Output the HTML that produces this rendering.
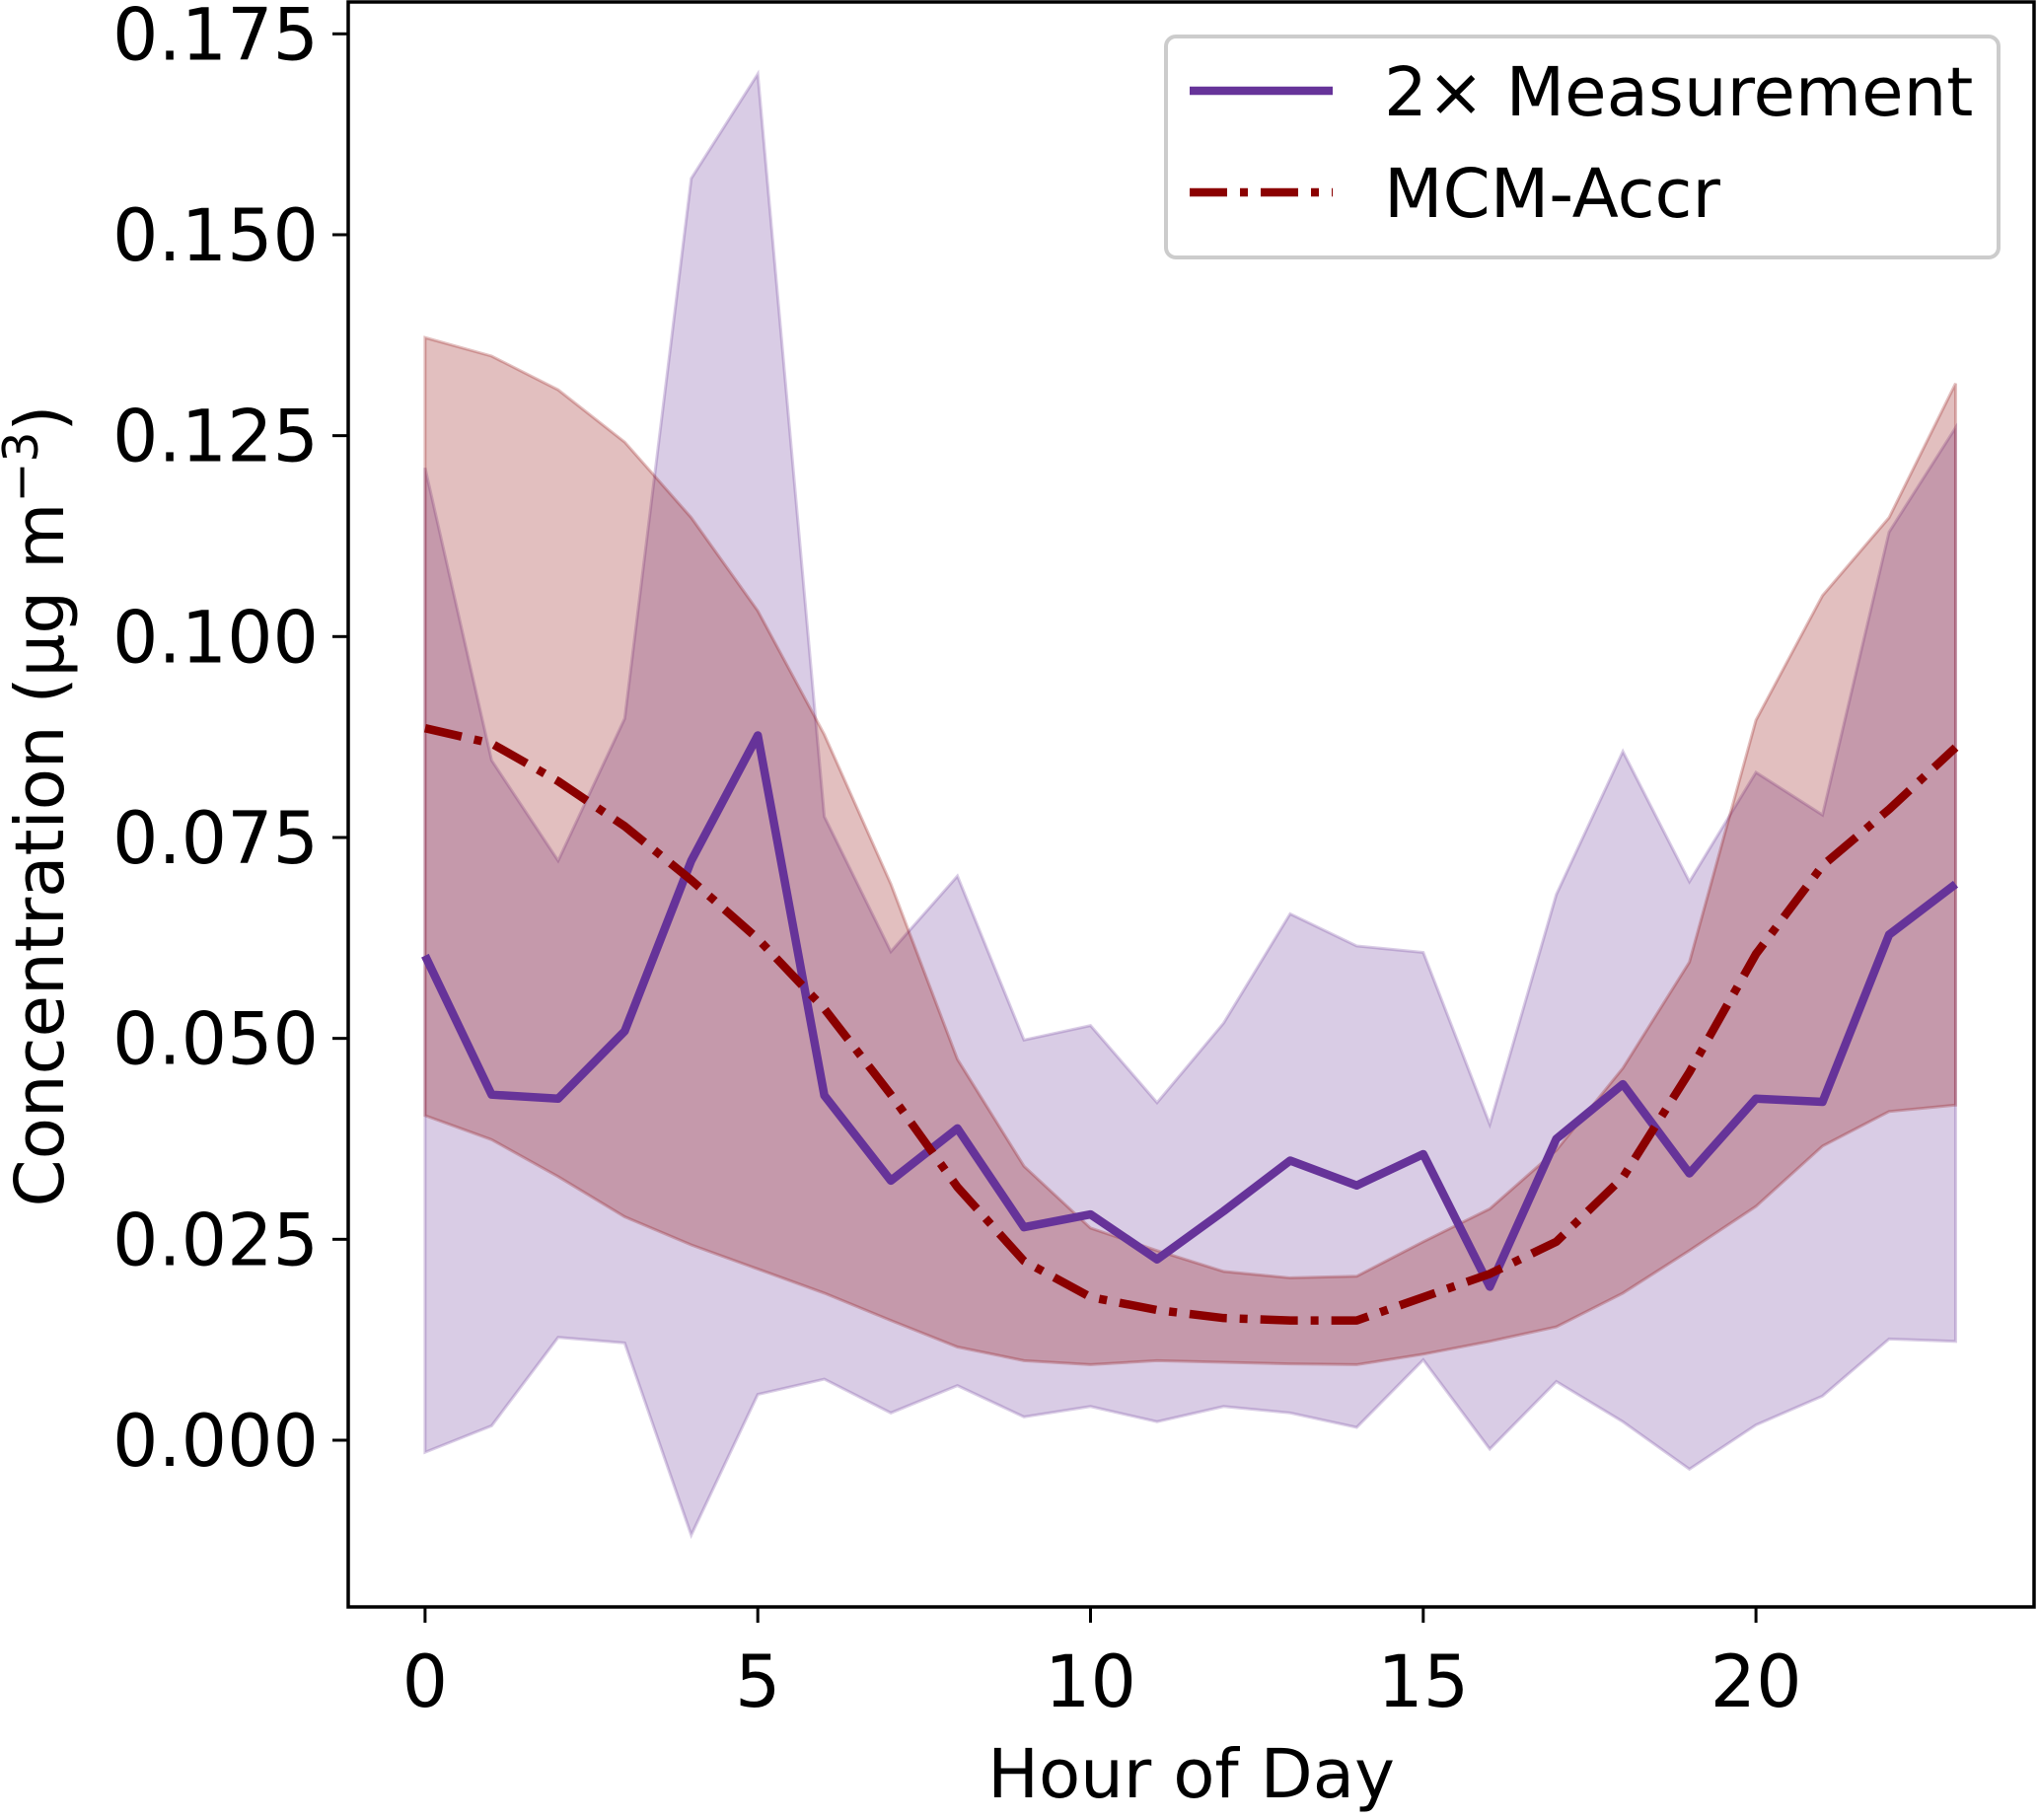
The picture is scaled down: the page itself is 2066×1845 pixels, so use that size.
<!DOCTYPE html>
<html><head><meta charset="utf-8"><style>
html,body{margin:0;padding:0;background:#fff}
svg text{font-family:"DejaVu Sans","Liberation Sans",sans-serif;fill:#000}
</style></head><body>
<svg id="chart" width="2066" height="1840" viewBox="0 0 2066 1840" xmlns="http://www.w3.org/2000/svg">
<g id="plot"></g>
<g id="axes"></g>
<g id="legend">
<rect x="1182" y="37" width="844" height="224" rx="10" fill="#fff" fill-opacity="0.8" stroke="#ccc" stroke-width="4"/>
<line x1="1206" y1="92" x2="1351" y2="92" stroke="#663399" stroke-width="8.5"/>
<text x="1403" y="117" font-size="69">2× Measurement</text>
<line x1="1206" y1="195" x2="1351" y2="195" stroke="#8b0000" stroke-width="8.5" stroke-dasharray="38,13,8,13"/>
<text x="1403" y="220" font-size="69">MCM-Accr</text>
</g>
</svg>
<script>
const hours=[0,1,2,3,4,5,6,7,8,9,10,11,12,13,14,15,16,17,18,19,20,21,22,23];
const measMean=[0.0603,0.0430,0.0425,0.0509,0.0721,0.0877,0.0429,0.0323,0.0388,0.0265,0.0281,0.0225,0.0285,0.0348,0.0317,0.0356,0.0191,0.0375,0.0443,0.0332,0.0425,0.0421,0.0629,0.0692];
const measUpper=[0.121,0.0846,0.0721,0.0898,0.157,0.170,0.0776,0.0608,0.0702,0.0498,0.0516,0.0420,0.0519,0.0655,0.0615,0.0607,0.0393,0.0679,0.0857,0.0695,0.0831,0.0778,0.113,0.126];
const measLower=[-0.0015,0.0018,0.0128,0.0121,-0.0118,0.0057,0.0076,0.0034,0.0068,0.0029,0.0042,0.0023,0.0042,0.0034,0.0016,0.0100,-0.0011,0.0073,0.0023,-0.0036,0.0019,0.0055,0.0126,0.0123];
const mcmMean=[0.0886,0.0867,0.0820,0.0764,0.0697,0.0624,0.0537,0.0430,0.0315,0.0223,0.0178,0.0162,0.0152,0.0149,0.0149,0.0178,0.0207,0.0247,0.0327,0.0458,0.0605,0.0715,0.0785,0.0862];
const mcmUpper=[0.1372,0.1349,0.1307,0.1242,0.1148,0.1032,0.0878,0.0692,0.0474,0.0341,0.0264,0.0236,0.0210,0.0202,0.0204,0.0247,0.0288,0.0361,0.0463,0.0595,0.0896,0.1051,0.1148,0.1315];
const mcmLower=[0.0404,0.0374,0.0328,0.0278,0.0243,0.0213,0.0183,0.0149,0.0116,0.0099,0.0094,0.0099,0.0097,0.0095,0.0094,0.0107,0.0123,0.0141,0.0183,0.0236,0.0291,0.0366,0.0409,0.0417];
const yTicks=[0,0.025,0.05,0.075,0.1,0.125,0.15,0.175];
const yTickLabels=["0.000","0.025","0.050","0.075","0.100","0.125","0.150","0.175"];
const xTicks=[0,5,10,15,20];
const xTickLabels=["0","5","10","15","20"];

const L=353,R=2062,T=2,B=1629;
const X=h=>430.9+h*67.46;
const Y=v=>1460-v*(1460-34.3)/0.175;
const NS="http://www.w3.org/2000/svg";
const plot=document.getElementById('plot'),axes=document.getElementById('axes');
function mk(tag,attrs,parent){const e=document.createElementNS(NS,tag);for(const k in attrs)e.setAttribute(k,attrs[k]);parent.appendChild(e);return e;}
function band(up,lo,color){
  let d='M'+hours.map((h,i)=>X(h)+','+Y(up[i])).join(' L');
  d+=' L'+hours.slice().reverse().map((h,j)=>{const i=hours.length-1-j;return X(h)+','+Y(lo[i]);}).join(' L')+' Z';
  return mk('path',{d:d,fill:color,'fill-opacity':0.25,stroke:color,'stroke-opacity':0.25,'stroke-width':3},plot);
}
function line(vals,color,dash){
  const d='M'+hours.map((h,i)=>X(h)+','+Y(vals[i])).join(' L');
  const a={d:d,fill:'none',stroke:color,'stroke-width':8.5,'stroke-linejoin':'round'};
  if(dash)a['stroke-dasharray']=dash;
  return mk('path',a,plot);
}
const b1=band(measUpper,measLower,'#663399');


const b2=band(mcmUpper,mcmLower,'#8b0000');


const l1=line(measMean,'#663399');


const l2=line(mcmMean,'#8b0000','38,13,8,13');



const frame=mk('rect',{x:L,y:T,width:R-L,height:B-T,fill:'none',stroke:'#000','stroke-width':3.5},axes);


yTicks.forEach((v,i)=>{
  const t=mk('line',{x1:L-16,x2:L,y1:Y(v),y2:Y(v),stroke:'#000','stroke-width':3},axes);
  
  
  const tx=mk('text',{x:L-30,y:Y(v)+26,'font-size':73,'text-anchor':'end'},axes);
  tx.textContent=yTickLabels[i];
  
  
});
xTicks.forEach((v,i)=>{
  const t=mk('line',{x1:X(v),x2:X(v),y1:B,y2:B+16,stroke:'#000','stroke-width':3},axes);
  
  
  const tx=mk('text',{x:X(v),y:1730,'font-size':73,'text-anchor':'middle'},axes);
  tx.textContent=xTickLabels[i];
  
  
});
const xl=mk('text',{x:(L+R)/2,y:1822,'font-size':69,'text-anchor':'middle'},axes);
xl.textContent='Hour of Day';


const yl=mk('text',{x:0,y:0,'font-size':69,'text-anchor':'middle',transform:'translate(64,817) rotate(-90)'},axes);
yl.innerHTML='Concentration (µg m<tspan dy="-26" font-size="49">−3</tspan><tspan dy="26">)</tspan>';


</script>
</body></html>
